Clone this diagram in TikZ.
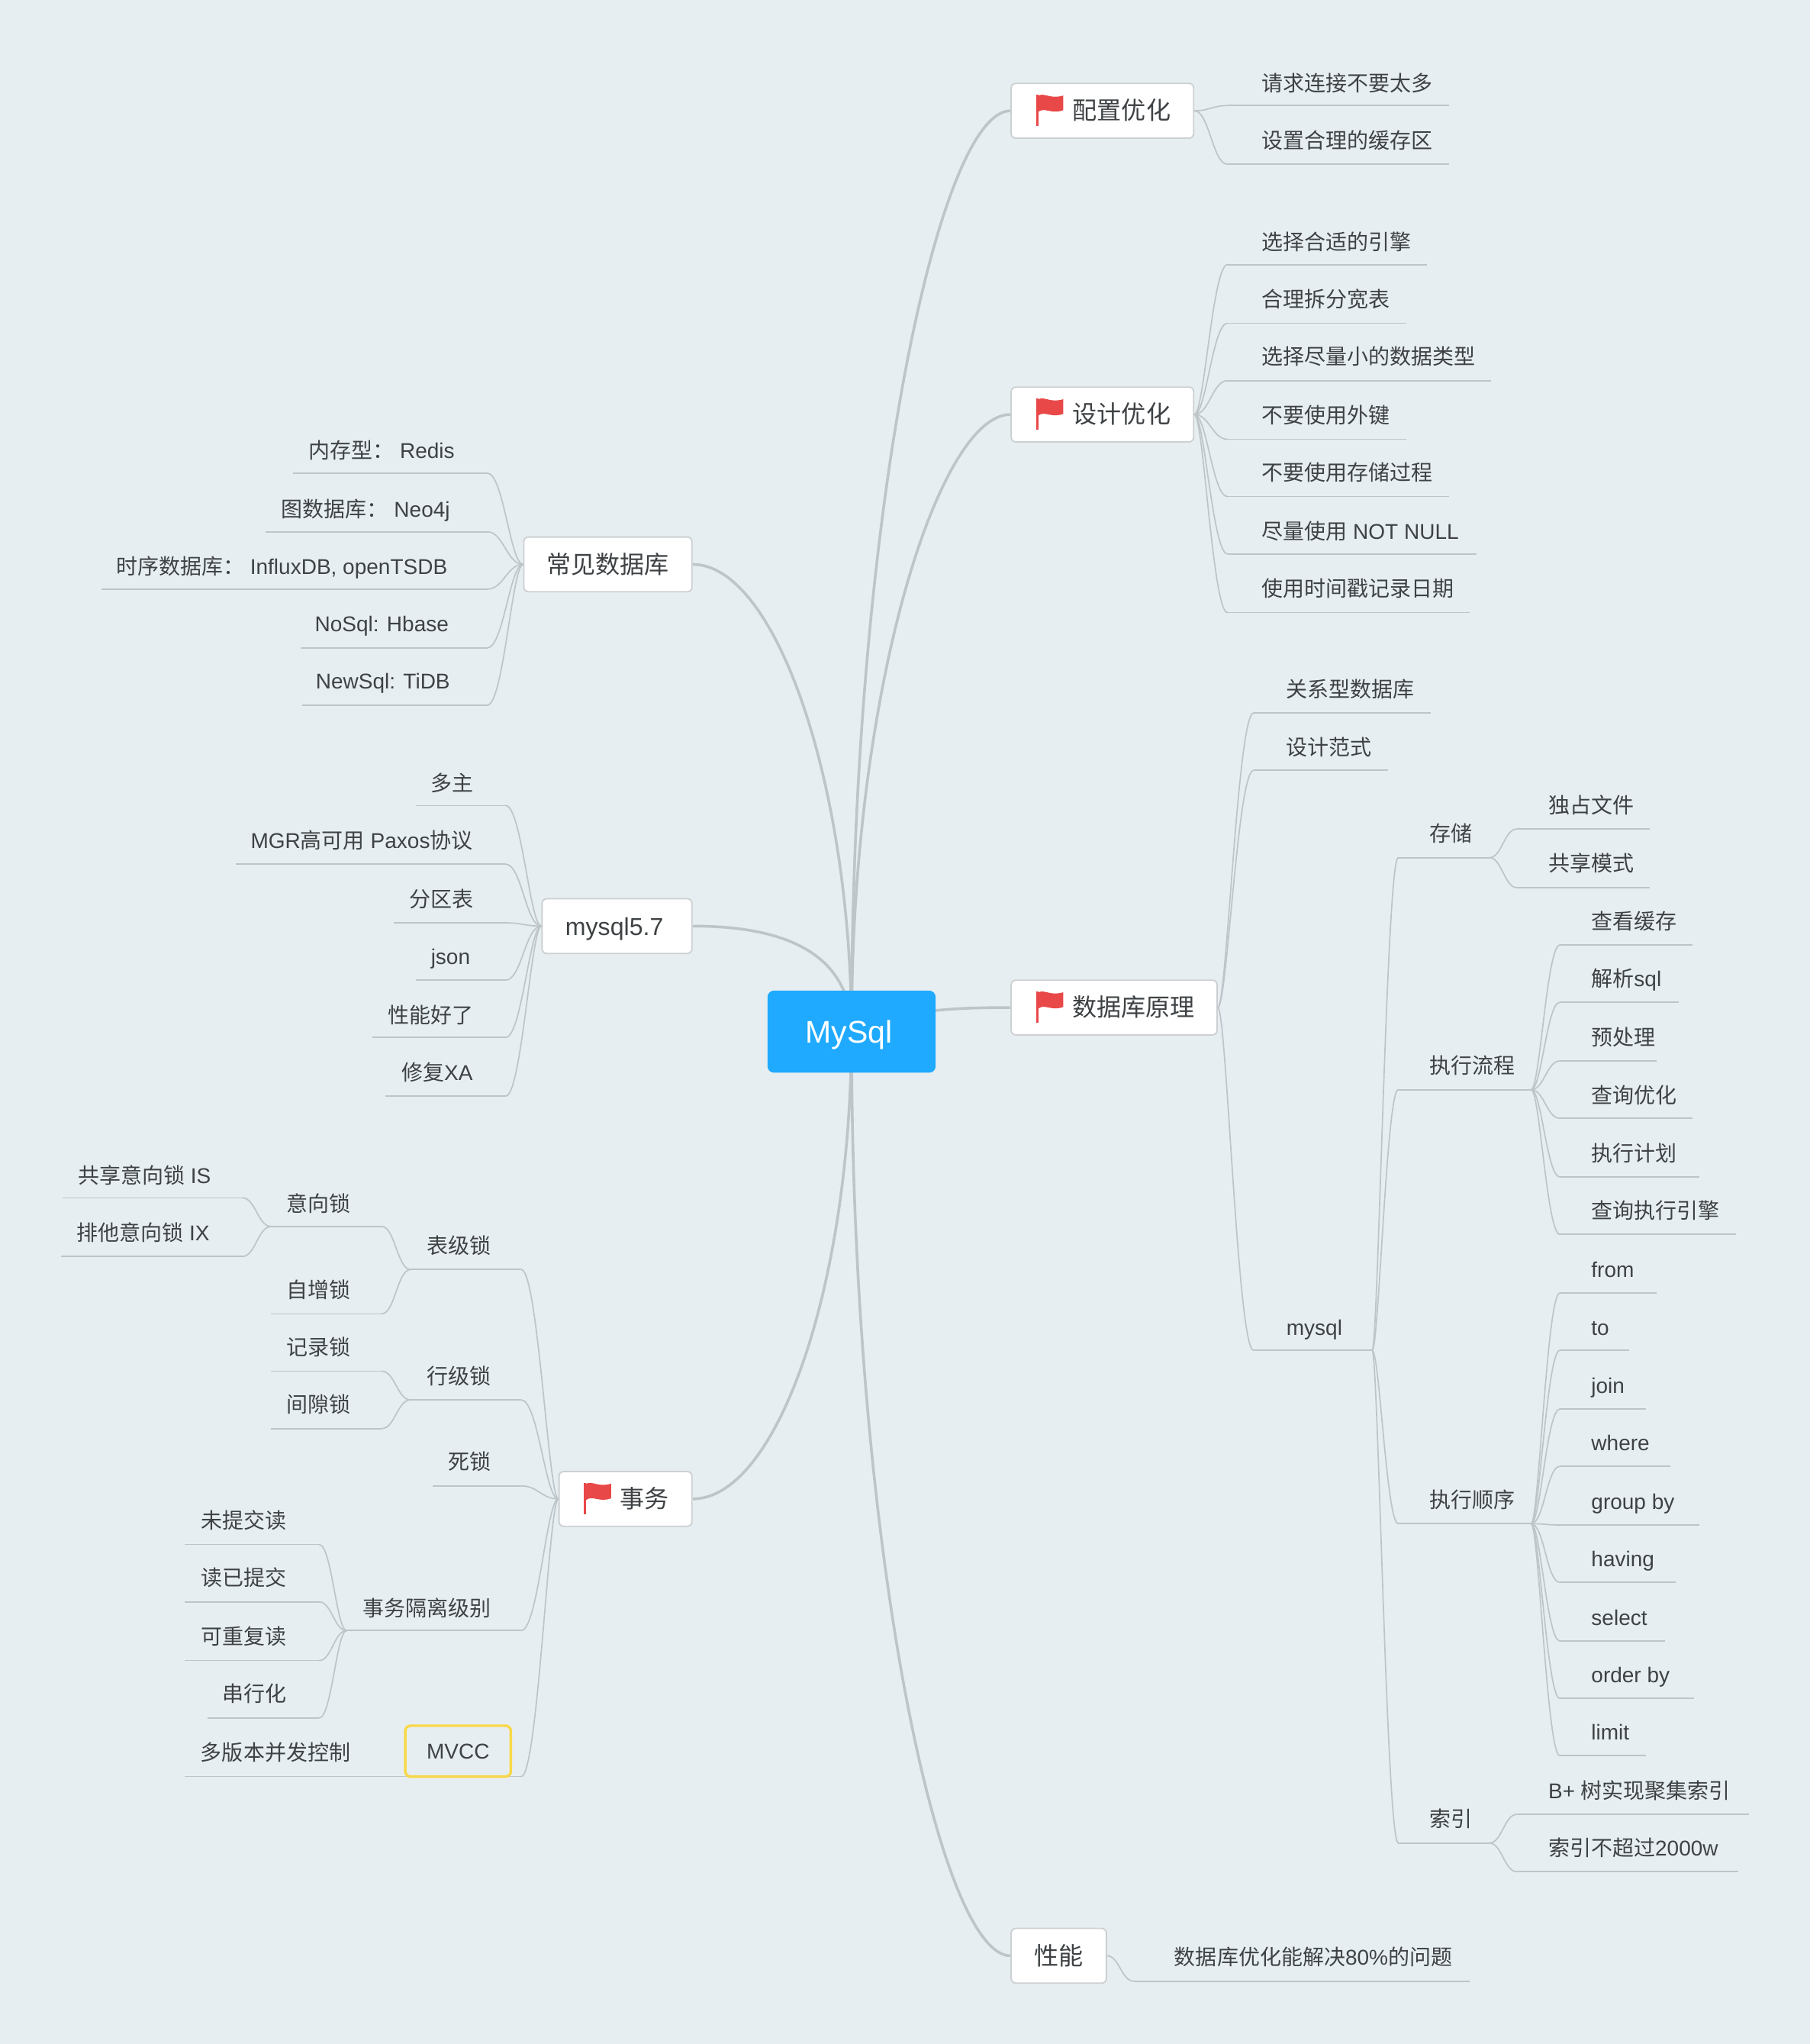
\documentclass[tikz,border=0pt]{standalone}
\usepackage{fontspec}
\setmainfont{Liberation Sans}
\newfontfamily\cjk{Noto Sans CJK SC}
\usetikzlibrary{calc,backgrounds}
\definecolor{bgc}{HTML}{E7EEF1}
\definecolor{linec}{HTML}{BEC5C8}
\definecolor{txtc}{HTML}{3E4244}
\definecolor{rootc}{HTML}{1FAAFF}
\definecolor{flagc}{HTML}{E94848}
\definecolor{boxc}{HTML}{CDD0D2}
\definecolor{mvccc}{HTML}{F8D848}
\newcommand\C[1]{{\cjk #1}}
\tikzset{
  x=1pt,y=-1pt,
  lbl/.style={font=\fontsize{16.4pt}{18pt}\selectfont,text=txtc,inner sep=0pt,text height=15pt,text depth=1.6pt},
  mainbox/.style={draw=boxc,line width=1.1pt,fill=white,rounded corners=3.5pt,inner sep=0pt,minimum height=42pt,
    font=\fontsize{18.8pt}{20pt}\selectfont,text=txtc,text height=15.6pt,text depth=1.8pt},
  rootbox/.style={fill=rootc,rounded corners=5pt,inner sep=0pt,minimum width=129pt,minimum height=63pt,
    font=\fontsize{24pt}{26pt}\selectfont,text=white,text height=17pt,text depth=0pt},
  mvccbox/.style={draw=mvccc,line width=2pt,rounded corners=4pt,inner sep=0pt,minimum width=81pt,minimum height=39pt,
    font=\fontsize{16.4pt}{18pt}\selectfont,text=txtc,text height=12pt,text depth=0pt},
  under/.style={draw=linec,line width=1pt},
  branch/.style={draw=linec,line width=2.1pt},
  twig/.style={draw=linec,line width=1pt,line cap=round},
}
% right-side leaf: name, text west x, text y, underline start, underline end, underline y, text
\newcommand\rleaf[7]{\node[lbl,anchor=west] (#1) at (#2,#3) {#7};
  \coordinate (#1s) at (#4,#6); \coordinate (#1e) at (#5,#6);
  \draw[under] (#1s) -- (#1e);}
% left-side leaf: name, text east x, text y, underline far end, underline near end, underline y, text
\newcommand\lleaf[7]{\node[lbl,anchor=east] (#1) at (#2,#3) {#7};
  \coordinate (#1s) at (#5,#6); \coordinate (#1e) at (#4,#6);
  \draw[under] (#1s) -- (#1e);}
\newcommand\twiglink[2]{\draw[twig] let \p1=(#1),\p2=(#2) in (\p1) .. controls ({\x1+(0.2+0.25*min(1,45/(abs(\y2-\y1)+1)))*(\x2-\x1)},\y1) and ({\x1+0.55*(\x2-\x1)},\y2) .. (\p2);}
\newcommand\flagmark[1]{\begin{scope}[shift={([xshift=19.5pt,yshift=12.5pt]#1.west)}]
  \fill[flagc] (0,0) rectangle (1.9,24);
  \fill[flagc] (1.9,0.8) .. controls (7,-1.5) and (11,3.8) .. (21,0.8) -- (21,12) .. controls (12,15.5) and (7,9.5) .. (1.9,13.2) -- cycle;
\end{scope}}
\begin{document}
\begin{tikzpicture}
\useasboundingbox (0,0) rectangle (1389,1568.2);
\begin{scope}[on background layer]
  \fill[bgc] (0,0) rectangle (1389,1568.2);
\end{scope}
% root and main topics
\node[rootbox] (root) at (653.5,791.5) {MySql\hspace*{4pt}};
\node[mainbox,minimum width=140pt] (cfg) at (846,85) {\hspace*{29.5pt}\C{配置优化}};
\node[mainbox,minimum width=140pt] (dsg) at (846,318) {\hspace*{29.5pt}\C{设计优化}};
\node[mainbox,minimum width=158pt] (db) at (855,773) {\hspace*{29.5pt}\C{数据库原理}};
\node[mainbox,minimum width=73pt] (perf) at (812.5,1500.5) {\C{性能}};
\node[mainbox,minimum width=129pt] (com) at (466.5,433) {\C{常见数据库}};
\node[mainbox,minimum width=115pt] (my57) at (473.5,710.5) {mysql5.7\hspace*{4pt}};
\node[mainbox,minimum width=102pt] (tx) at (480,1150) {\hspace*{29.5pt}\C{事务}};
\flagmark{cfg}\flagmark{dsg}\flagmark{db}\flagmark{tx}
\begin{scope}[on background layer]
  \draw[branch] (root.center) .. controls (653,400) and (720,85) .. (cfg.west);
  \draw[branch] (root.center) .. controls (653,531) and (720,318) .. (dsg.west);
  \draw[branch] (root.center) .. controls (690,775) and (730,773) .. (db.west);
  \draw[branch] (root.center) .. controls (653,1181) and (720,1500.5) .. (perf.west);
  \draw[branch] (root.center) .. controls (653,600) and (595,433) .. (com.east);
  \draw[branch] (root.center) .. controls (653,730) and (600,710.5) .. (my57.east);
  \draw[branch] (root.center) .. controls (653,991) and (595,1150) .. (tx.east);
\end{scope}
% 配置优化
\rleaf{a1}{968}{63}{942}{1112}{81}{\C{请求连接不要太多}}
\rleaf{a2}{968}{107}{942}{1112}{126}{\C{设置合理的缓存区}}
\twiglink{cfg.east}{a1s}\twiglink{cfg.east}{a2s}
% 设计优化
\rleaf{b1}{968}{185}{942}{1095}{203}{\C{选择合适的引擎}}
\rleaf{b2}{968}{229}{942}{1079}{248}{\C{合理拆分宽表}}
\rleaf{b3}{968}{273}{942}{1144}{292}{\C{选择尽量小的数据类型}}
\rleaf{b4}{968}{318}{942}{1079}{337}{\C{不要使用外键}}
\rleaf{b5}{968}{362}{942}{1112}{381}{\C{不要使用存储过程}}
\rleaf{b6}{968}{407}{942}{1133}{425}{\C{尽量使用} NOT NULL}
\rleaf{b7}{968}{451}{942}{1128}{470}{\C{使用时间戳记录日期}}
\foreach \q in {b1,b2,b3,b4,b5,b6,b7}{\twiglink{dsg.east}{\q s}}
% 数据库原理
\rleaf{c1}{987}{528}{962}{1098}{547}{\C{关系型数据库}}
\rleaf{c2}{987}{573}{962}{1065}{591}{\C{设计范式}}
\rleaf{c3}{987}{1018}{962}{1053}{1036}{mysql}
\foreach \q in {c1,c2,c3}{\twiglink{db.east}{\q s}}
% mysql
\rleaf{d1}{1097}{639}{1073}{1143}{658}{\C{存储}}
\rleaf{d2}{1097}{817}{1073}{1175}{836}{\C{执行流程}}
\rleaf{d3}{1097}{1150}{1073}{1175}{1169}{\C{执行顺序}}
\rleaf{d4}{1097}{1395}{1073}{1143}{1414}{\C{索引}}
\foreach \q in {d1,d2,d3,d4}{\twiglink{c3e}{\q s}}
% 存储
\rleaf{e1}{1188}{617}{1164}{1266}{636}{\C{独占文件}}
\rleaf{e2}{1188}{662}{1164}{1266}{681}{\C{共享模式}}
\twiglink{d1e}{e1s}\twiglink{d1e}{e2s}
% 执行流程
\rleaf{f1}{1221}{706}{1197}{1299}{725}{\C{查看缓存}}
\rleaf{f2}{1221}{750}{1197}{1288}{769}{\C{解析}sql}
\rleaf{f3}{1221}{795}{1197}{1271}{814}{\C{预处理}}
\rleaf{f4}{1221}{840}{1197}{1299}{858}{\C{查询优化}}
\rleaf{f5}{1221}{884}{1197}{1304}{903}{\C{执行计划}}
\rleaf{f6}{1221}{928}{1197}{1332}{947}{\C{查询执行引擎}}
\foreach \q in {f1,f2,f3,f4,f5,f6}{\twiglink{d2e}{\q s}}
% 执行顺序
\rleaf{g1}{1221}{973}{1197}{1271}{992}{from}
\rleaf{g2}{1221}{1018}{1197}{1250}{1036}{to}
\rleaf{g3}{1221}{1062}{1197}{1263}{1081}{join}
\rleaf{g4}{1221}{1106}{1197}{1282}{1125}{where}
\rleaf{g5}{1221}{1151}{1197}{1304}{1170}{group by}
\rleaf{g6}{1221}{1195}{1197}{1286}{1214}{having}
\rleaf{g7}{1221}{1240}{1197}{1278}{1259}{select}
\rleaf{g8}{1221}{1284}{1197}{1300}{1303}{order by}
\rleaf{g9}{1221}{1328}{1197}{1263}{1347}{limit}
\foreach \q in {g1,g2,g3,g4,g5,g6,g7,g8,g9}{\twiglink{d3e}{\q s}}
% 索引
\rleaf{h1}{1188}{1373}{1164}{1342}{1392}{B+ \C{树实现聚集索引}}
\rleaf{h2}{1188}{1417}{1164}{1334}{1436}{\C{索引不超过}2000w}
\twiglink{d4e}{h1s}\twiglink{d4e}{h2s}
% 性能
\rleaf{p1}{901}{1501}{870}{1128}{1520}{\C{数据库优化能解决}80\%\C{的问题}}
\twiglink{perf.east}{p1s}
% 常见数据库
\lleaf{k1}{349}{345}{225}{374}{363}{\C{内存型：} Redis}
\lleaf{k2}{345.5}{390}{204}{374}{408}{\C{图数据库：} Neo4j}
\lleaf{k3}{343.5}{434}{78}{374}{452}{\C{时序数据库：} InfluxDB, openTSDB}
\lleaf{k4}{344.5}{478}{231}{374}{497}{NoSql: Hbase}
\lleaf{k5}{345.5}{522}{232}{374}{541}{NewSql: TiDB}
\foreach \q in {k1,k2,k3,k4,k5}{\twiglink{com.west}{\q s}}
% mysql5.7
\lleaf{m1}{363.5}{600}{319}{388}{618}{\C{多主}}
\lleaf{m2}{363}{644}{181}{388}{663}{MGR\C{高可用} Paxos\C{协议}}
\lleaf{m3}{363.5}{689}{302}{388}{708}{\C{分区表}}
\lleaf{m4}{361}{733}{319}{388}{752}{json}
\lleaf{m5}{363.5}{778}{286}{388}{796}{\C{性能好了}}
\lleaf{m6}{363}{822}{296}{388}{841}{\C{修复}XA}
\foreach \q in {m1,m2,m3,m4,m5,m6}{\twiglink{my57.west}{\q s}}
% 事务
\lleaf{t1}{377}{955}{315}{400}{974}{\C{表级锁}}
\lleaf{t2}{377}{1055}{315}{400}{1074}{\C{行级锁}}
\lleaf{t3}{377}{1121}{332}{400}{1140}{\C{死锁}}
\lleaf{t4}{377}{1233}{266}{400}{1251}{\C{事务隔离级别}}
\coordinate (t5s) at (400,1363);
\coordinate (t5e) at (311,1363);
\draw[under] (t5s) -- (t5e);
\foreach \q in {t1,t2,t3,t4,t5}{\twiglink{tx.west}{\q s}}
% 表级锁
\lleaf{u1}{269}{923}{208}{293}{941}{\C{意向锁}}
\lleaf{u2}{269}{989}{208}{293}{1008}{\C{自增锁}}
\twiglink{t1e}{u1s}\twiglink{t1e}{u2s}
\lleaf{v1}{162}{901}{48}{186}{919}{\C{共享意向锁} IS}
\lleaf{v2}{161}{945}{47}{186}{964}{\C{排他意向锁} IX}
\twiglink{u1e}{v1s}\twiglink{u1e}{v2s}
% 行级锁
\lleaf{w1}{269}{1033}{208}{293}{1052}{\C{记录锁}}
\lleaf{w2}{269}{1077}{208}{293}{1096}{\C{间隙锁}}
\twiglink{t2e}{w1s}\twiglink{t2e}{w2s}
% 事务隔离级别
\lleaf{y1}{220}{1166}{142}{245}{1185}{\C{未提交读}}
\lleaf{y2}{220}{1210}{142}{245}{1229}{\C{读已提交}}
\lleaf{y3}{220}{1255}{142}{245}{1274}{\C{可重复读}}
\lleaf{y4}{220}{1299}{159}{245}{1318}{\C{串行化}}
\foreach \q in {y1,y2,y3,y4}{\twiglink{t4e}{\q s}}
% MVCC
\lleaf{z1}{269}{1344}{142}{311}{1363}{\C{多版本并发控制}}
\node[mvccbox] (mvcc) at (351.5,1343.5) {MVCC};
\end{tikzpicture}
\end{document}
